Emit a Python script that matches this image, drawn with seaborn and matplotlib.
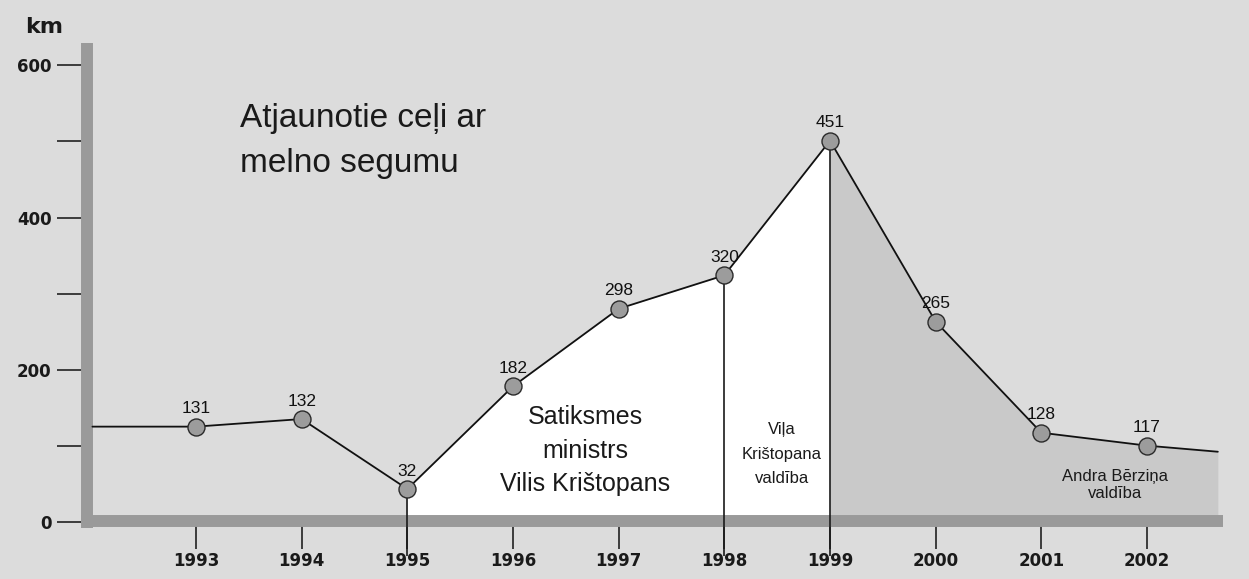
import numpy as np
import pandas as pd
import matplotlib.pyplot as plt
import seaborn as sns

# values printed next to the points
years = [1993, 1994, 1995, 1996, 1997, 1998, 1999, 2000, 2001, 2002]
km_printed = [131, 132, 32, 182, 298, 320, 451, 265, 128, 117]
# heights at which the points are actually drawn on the chart
km_drawn = [125, 135, 43, 178, 280, 324, 501, 263, 117, 100]
# the line enters at the left axis and runs on past 2002
lead_in_year, lead_in_km = 1992.02, 125
lead_out_year, lead_out_km = 2002.67, 92

ytick_values = [0, 100, 200, 300, 400, 500, 600]
ytick_labels = ['0', '', '200', '', '400', '', '600']

title_lines = ['Atjaunotie ceļi ar', 'melno segumu']
minister_lines = ['Satiksmes', 'ministrs', 'Vilis Krištopans']
kristopans_gov_lines = ['Viļa', 'Krištopana', 'valdība']
berzins_gov_lines = ['Andra Bērziņa', 'valdība']

points = pd.DataFrame({'year': years, 'km': km_drawn, 'label': km_printed})
line = pd.DataFrame({'year': [lead_in_year] + years + [lead_out_year],
                     'km': [lead_in_km] + km_drawn + [lead_out_km]})

BG = '#dcdcdc'
W, H = 1249, 579

sns.set_style('white')
plt.rcParams['font.family'] = ['Liberation Sans', 'DejaVu Sans']

fig = plt.figure(figsize=(W / 100, H / 100), dpi=100, facecolor=BG)
ax = fig.add_axes([0, 0, 1, 1])
ax.set_facecolor(BG)

# pixel layout of the original: 1993 at x=196, 105.67 px per year; 0 km at y=521.7, 0.7605 px per km
ax.set_xlim(1993 - 196 / 105.67, 1993 + (W - 196) / 105.67)
ax.set_ylim(-(H - 521.7) / 0.7605, 521.7 / 0.7605)

# white area under the minister period, grey area after 1999
seg = points[(points.year >= 1995) & (points.year <= 1999)]
ax.fill_between(seg.year, seg.km, 0, color='white', lw=0, zorder=1)
tail = pd.concat([points[points.year >= 1999], line.tail(1)])
ax.fill_between(tail.year, tail.km, 0, color='#c9c9c9', lw=0, zorder=1)

# vertical markers for the periods
for yr in [1995, 1998, 1999]:
    top = points.loc[points.year == yr, 'km'].iloc[0]
    ax.vlines(yr, -45, top, color='#1a1a1a', lw=1.2, zorder=3)

sns.lineplot(data=line, x='year', y='km', sort=False, estimator=None,
             color='#111111', lw=1.3, ax=ax, zorder=4)
sns.scatterplot(data=points, x='year', y='km', s=150, color='#9c9c9c',
                edgecolor='#2a2a2a', linewidth=1.0, ax=ax, zorder=5)

for _, r in points.iterrows():
    ax.annotate(str(r.label), (r.year, r.km), xytext=(0, 9.7), textcoords='offset points',
                ha='center', va='baseline', fontsize=12.5, color='#111111', zorder=6)

# thick grey axes
for side in ['top', 'right']:
    ax.spines[side].set_visible(False)
ax.spines['left'].set_position(('data', 1991.9685))
ax.spines['left'].set_bounds(-8, 629)
ax.spines['bottom'].set_position(('data', 0.9))
ax.spines['bottom'].set_bounds(1991.912, 2002.72)
for side in ['left', 'bottom']:
    ax.spines[side].set_linewidth(8.6)
    ax.spines[side].set_color('#9a9a9a')
    ax.spines[side].set_capstyle('butt')
    ax.spines[side].set_zorder(2.2)

ax.set_yticks(ytick_values)
ax.set_yticklabels(ytick_labels)
ax.set_xticks(years)
ax.set_xticklabels([str(y) for y in years])
ax.tick_params(axis='y', left=True, direction='out', length=21.6, width=1.1,
               color='#111111', pad=4)
ax.tick_params(axis='x', bottom=True, direction='out', length=20.5, width=1.1,
               color='#111111', pad=2)
for lbl in ax.get_xticklabels() + ax.get_yticklabels():
    lbl.set_fontfamily('DejaVu Sans')
    lbl.set_fontweight('bold')
    lbl.set_fontsize(12)
    lbl.set_color('#1a1a1a')
ax.set_xlabel('')
ax.set_ylabel('')


def put(x, y, s, **kw):
    fig.text(x / W, 1 - y / H, s, **kw)


put(44, 33, 'km', ha='center', va='baseline', fontsize=16, fontweight='bold',
    family='DejaVu Sans', color='#1a1a1a')

for s, y in zip(title_lines, [127, 172]):
    put(240, y, s, ha='left', va='baseline', fontsize=24, color='#1a1a1a')

for s, y in zip(minister_lines, [424, 458, 491]):
    put(585, y, s, ha='center', va='baseline', fontsize=18, color='#1a1a1a')

for s, y in zip(kristopans_gov_lines, [434, 459, 483]):
    put(782, y, s, ha='center', va='baseline', fontsize=12, color='#1a1a1a')

for s, y in zip(berzins_gov_lines, [481, 498]):
    put(1115, y, s, ha='center', va='baseline', fontsize=12, color='#1a1a1a')

fig.savefig('out.png', dpi=100, facecolor=BG)
